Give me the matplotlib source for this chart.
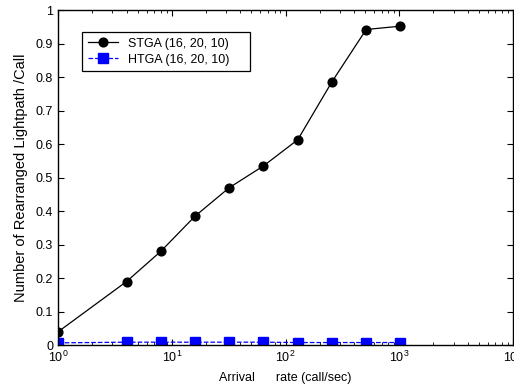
import matplotlib
matplotlib.use('Agg')
import matplotlib.pyplot as plt
from matplotlib.ticker import LogLocator, NullFormatter

plt.rcParams['font.family'] = ['Liberation Sans', 'DejaVu Sans']
plt.rcParams['font.size'] = 9

# arrival rates (call/sec)
rates = [1, 4, 8, 16, 32, 64, 128, 256, 512, 1024]
stga = [0.04, 0.19, 0.28, 0.385, 0.47, 0.535, 0.613, 0.786, 0.942, 0.952]
htga = [0.007, 0.009, 0.009, 0.009, 0.009, 0.009, 0.008, 0.008, 0.008, 0.008]

fig = plt.figure(figsize=(5.14, 3.87), dpi=100)
ax = fig.add_axes([0.113, 0.108, 0.885, 0.866])

ax.plot(rates, stga, color='black', linewidth=0.9, marker='o', markersize=6.3,
        label='STGA (16, 20, 10)')
ax.plot(rates, htga, color='blue', linewidth=0.9, linestyle='--', marker='s',
        markersize=6.5, label='HTGA (16, 20, 10)')

ax.set_xscale('log')
ax.set_xlim(1, 1e4)
ax.set_ylim(0, 1)
ax.set_yticks([0, 0.1, 0.2, 0.3, 0.4, 0.5, 0.6, 0.7, 0.8, 0.9, 1])
ax.set_yticklabels(['0', '0.1', '0.2', '0.3', '0.4', '0.5', '0.6', '0.7', '0.8', '0.9', '1'])
ax.xaxis.set_minor_locator(LogLocator(base=10, subs=range(2, 10)))
ax.xaxis.set_minor_formatter(NullFormatter())

ax.tick_params(which='both', direction='in', top=True, right=True)
ax.tick_params(which='major', length=4, width=0.8)
ax.tick_params(which='minor', length=2, width=0.6)
for s in ax.spines.values():
    s.set_linewidth(1.0)

ax.set_xlabel('Arrival      rate (call/sec)', labelpad=5)
ax.set_ylabel('Number of Rearranged Lightpath /Call', fontsize=10.5, labelpad=6)

leg = ax.legend(loc='upper left', bbox_to_anchor=(0.053, 0.818, 0.369, 0.116),
                mode='expand', borderaxespad=0, fancybox=False, framealpha=1,
                edgecolor='black', borderpad=0.45, handlelength=2.4,
                labelspacing=0.3)
leg.get_frame().set_linewidth(0.9)

fig.savefig('out.png', dpi=100)
